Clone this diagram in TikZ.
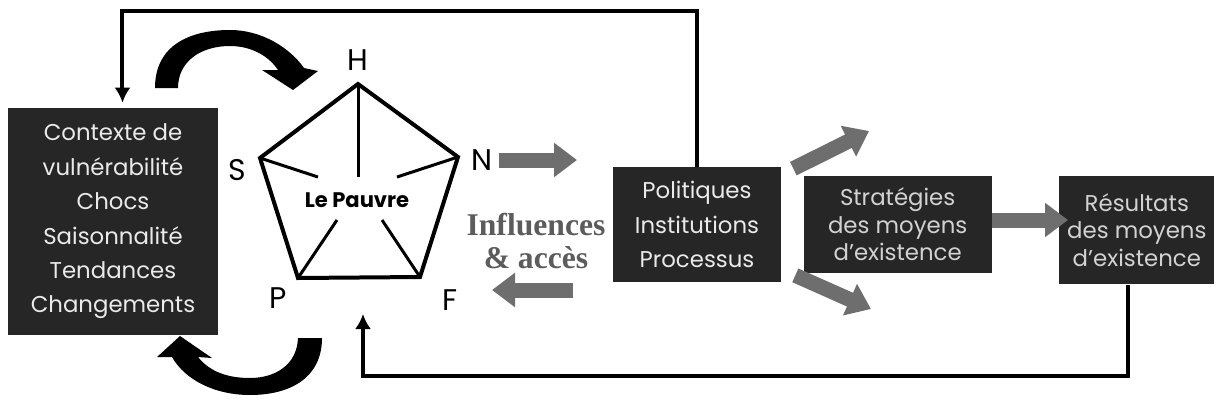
\documentclass[tikz,border=0pt]{standalone}
\usepackage{fontspec}
\setmainfont{Poppins}
\newfontfamily\inflfont{Liberation Serif}
\usetikzlibrary{arrows.meta,positioning,calc}
\definecolor{SlBox}{HTML}{262626}
\definecolor{SlText}{HTML}{EAEAEA}
\definecolor{SlDim}{HTML}{D2D2D2}
\definecolor{SlGray}{HTML}{6E6E6E}
\definecolor{SlInfl}{HTML}{5C5C5C}

\begin{document}
\begin{tikzpicture}[x=0.02cm,y=-0.02cm,every node/.style={align=center,font=\fontsize{13}{19.6}\selectfont},
    dbox/.style={fill=SlBox,text=SlText,inner sep=0pt},
    garrow/.style={line width=0.3cm,SlGray,-{Triangle[length=0.46cm,width=0.66cm]}},
    fbline/.style={line width=0.08cm,-{Latex[length=0.3cm,width=0.32cm]}},
    vlabel/.style={font=\fontsize{17}{20}\selectfont}]
    \useasboundingbox (0,0) rectangle (1218,406);
    % boxes
    \node[dbox,minimum width=4.2cm,minimum height=4.54cm] (ctx) at (113,221.5) {Contexte de\\vulnérabilité\\Chocs\\Saisonnalité\\Tendances\\Changements};
    \node[dbox,minimum width=3.36cm,minimum height=2.3cm] (pol) at (697,224.5) {Politiques\\Institutions\\Processus};
    \node[dbox,text=SlDim,right=0.44cm of pol,minimum width=3.76cm,minimum height=1.96cm,font=\fontsize{13}{15.6}\selectfont] (strat) {Stratégies\\des moyens\\d'existence};
    \node[dbox,text=SlDim,right=1.34cm of strat,yshift=-0.11cm,minimum width=3.1cm,minimum height=2.18cm,font=\fontsize{13}{15.8}\selectfont] (res) {Résultats\\des moyens\\d'existence};
    % pentagon
    \coordinate (vH) at (358,84);
    \coordinate (vS) at (260,158);
    \coordinate (vN) at (458,157);
    \coordinate (vP) at (298,278);
    \coordinate (vF) at (420,277);
    \draw[line width=0.08cm] (vH) -- (vN) -- (vF) -- (vP) -- (vS) -- cycle;
    \foreach \v/\x/\y in {vH/358/177,vS/318/177,vN/397/177,vP/337/220,vF/382/220}{\draw[line width=0.06cm] (\v) -- (\x,\y);}
    \node[font=\fontsize{12}{14}\selectfont\bfseries] (poor) at (357,200) {Le Pauvre};
    \node[vlabel] (lH) at (358,60) {H};
    \node[vlabel] (lS) at (237,170) {S};
    \node[vlabel] (lN) at (482,160) {N};
    \node[vlabel] (lP) at (278,298) {P};
    \node[vlabel] (lF) at (450,300) {F};
    % cycle arrows
    \fill (155,88) .. controls (155,45) and (190,30) .. (230,30) .. controls (262,30) and (290,48) .. (304,68) -- (318,71) -- (293,90) -- (262,70) -- (278,70) .. controls (268,55) and (250,46) .. (230,46) .. controls (200,46) and (178,62) .. (178,88) -- cycle;
    \fill (322,338) .. controls (322,378) and (290,395) .. (250,395) .. controls (215,395) and (185,380) .. (172,357) -- (157,357) -- (180,336) -- (212,358) -- (198,357) .. controls (210,372) and (228,378) .. (250,378) .. controls (275,378) and (297,365) .. (298,338) -- cycle;
    % influences
    \node[font=\inflfont\bfseries\fontsize{18}{18.7}\selectfont,text=SlInfl] (infl) at (536,241) {Influences\\\& accès};
    \coordinate (nend) at (577,160);
    \coordinate (bstart) at (573,290);
    \coordinate (bend) at (492,290);
    \coordinate (sup) at (869,131);
    \coordinate (sdown) at (871,309);
    \coordinate (rin) at (1068,220);
    \draw[garrow] (lN.east) -- (nend);
    \draw[garrow] (bstart) -- (bend);
    \draw[garrow] ([xshift=0.24cm,yshift=-0.04cm]pol.north east) -- (sup);
    \draw[garrow] ([xshift=0.28cm,yshift=0.14cm]pol.south east) -- (sdown);
    \draw[garrow] (strat.east |- rin) -- (rin);
    % feedback lines
    \coordinate (topc) at (0,11);
    \coordinate (botc) at (0,376);
    \coordinate (pfoot) at (363,314);
    \draw[fbline,shorten >=0.1cm] (pol.north) -- (pol.north |- topc) -| ([xshift=0.19cm]ctx.north);
    \draw[fbline] ([xshift=-0.17cm]res.south) -- ([xshift=-0.17cm]res.south |- botc) -| (pfoot);
\end{tikzpicture}
\end{document}
